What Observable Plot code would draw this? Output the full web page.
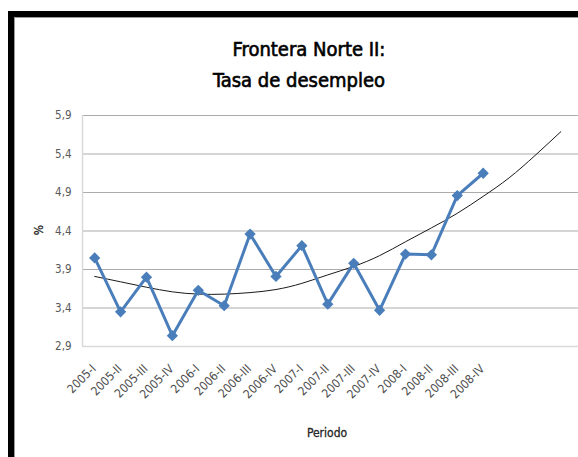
<!DOCTYPE html>
<html>
<head>
<meta charset="utf-8">
<script src="https://cdn.jsdelivr.net/npm/d3@7"></script>
<script src="https://cdn.jsdelivr.net/npm/@observablehq/plot@0.6"></script>
<style>
  html, body { margin: 0; padding: 0; background: #fff; overflow: hidden; width: 578px; height: 457px; }
  body { position: relative; font-family: "DejaVu Sans Condensed", sans-serif; }
  #frame { position: absolute; left: 8px; top: 11px; width: 700px; height: 600px; border-left: 6px solid #000; border-top: 6px solid #000; }
  #inner { position: absolute; left: 0; top: 0; width: 100%; height: 100%; border-left: 1px solid #9a9a9a; border-top: 1px solid #9a9a9a; }
  #chart { position: absolute; left: 0; top: 0; }
  .title { position: absolute; width: 300px; text-align: center; font-size: 20px; line-height: 20px; font-weight: normal; color: #000; white-space: nowrap; -webkit-text-stroke: 0.6px #000; }
  .axt { position: absolute; font-size: 12px; line-height: 12px; font-weight: normal; color: #262626; white-space: nowrap; -webkit-text-stroke: 0.3px #262626; }
</style>
</head>
<body>
<div id="frame"><div id="inner"></div></div>
<div id="chart"></div>
<div class="title" style="left:159px; top:39px;">Frontera Norte II:</div>
<div class="title" style="left:149px; top:70px;">Tasa de desempleo</div>
<div class="axt" style="left:302px; top:427px; width:50px; text-align:center;">Periodo</div>
<div class="axt" style="left:29px; top:224px; width:20px; text-align:center; transform: rotate(-90deg);">%</div>
<script>
// Periods (quarters)
const periods = ["2005-I","2005-II","2005-III","2005-IV","2006-I","2006-II","2006-III","2006-IV","2007-I","2007-II","2007-III","2007-IV","2008-I","2008-II","2008-III","2008-IV"];
// Unemployment rate (%)
const tasa = [4.05, 3.35, 3.80, 3.04, 3.63, 3.43, 4.36, 3.81, 4.21, 3.45, 3.98, 3.37, 4.10, 4.09, 4.86, 5.15];
// Trend line values, one per period step (extends past 2008-IV)
const tendencia = [3.81, 3.74, 3.67, 3.61, 3.58, 3.58, 3.60, 3.64, 3.72, 3.83, 3.94, 4.08, 4.26, 4.44, 4.63, 4.85, 5.09, 5.38, 5.69];
// Y ticks
const yTicks = [2.9, 3.4, 3.9, 4.4, 4.9, 5.4, 5.9];

const data = periods.map((p, i) => ({i, periodo: p, tasa: tasa[i]}));
const trend = tendencia.map((v, i) => ({i, v}));
const fmt = d => d.toFixed(1).replace(".", ",");

const chart = Plot.plot({
  width: 578,
  height: 457,
  marginTop: 115,
  marginBottom: 111,
  marginLeft: 82,
  marginRight: 0,
  style: { fontFamily: '"DejaVu Sans Condensed", sans-serif', fontSize: "11.5px", color: "#595959", background: "transparent" },
  x: { type: "linear", domain: [-0.47, 18.68], axis: null },
  y: { domain: [2.9, 5.9], axis: null },
  marks: [
    Plot.ruleY(yTicks.slice(1), { stroke: "#ababab", strokeWidth: 1 }),
    Plot.ruleY([2.9], { stroke: "#d9d9d9", strokeWidth: 1.5 }),
    Plot.ruleX([-0.47], { stroke: "#d9d9d9", strokeWidth: 1.5 }),
    Plot.axisY({ ticks: yTicks, tickFormat: fmt, tickSize: 0, tickPadding: 11, label: null, fill: "#595959" }),
    Plot.line(trend, { x: "i", y: "v", curve: "natural", stroke: "#1a1a1a", strokeWidth: 1 }),
    Plot.line(data, { x: "i", y: "tasa", stroke: "#4a7ebb", strokeWidth: 3 }),
    Plot.dot(data, { x: "i", y: "tasa", symbol: "square", rotate: 45, r: 4.5, fill: "#4a7ebb", stroke: "none" }),
    Plot.text(data, { x: "i", text: "periodo", frameAnchor: "bottom", rotate: -45, textAnchor: "end", dy: 23, dx: 2, fill: "#4d4d4d", fontSize: 12 })
  ]
});
document.getElementById("chart").appendChild(chart);
</script>
</body>
</html>
